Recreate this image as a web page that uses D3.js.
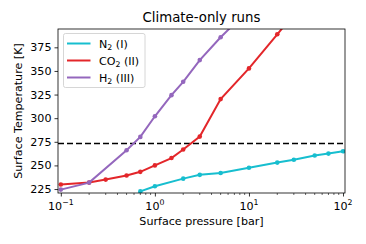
<!DOCTYPE html>
<html>
<head>
<meta charset="utf-8">
<script src="https://d3js.org/d3.v7.min.js"></script>
<style>
  body { margin: 0; background: #fff; }
  text { font-family: "DejaVu Sans", sans-serif; fill: #000; }
</style>
</head>
<body>
<script>

// surface pressure [bar] and surface temperature [K] for each run
var n2P  = [0.7, 1, 2, 3, 5, 10, 20, 30, 50, 70, 100];
var n2T  = [222.5, 228, 236, 240, 242, 247.5, 253, 256, 260.5, 262.5, 265];
var co2P = [0.1, 0.2, 0.3, 0.5, 0.7, 1, 1.5, 2, 3, 5, 10, 20, 30];
var co2T = [229.8, 231.8, 235, 239.3, 243.2, 250, 257.8, 266.8, 280.5, 320.2, 352.7, 388.8, 410];
var h2P  = [0.1, 0.2, 0.5, 0.7, 1, 1.5, 2, 3, 5, 7];
var h2T  = [224.4, 231.8, 266, 280.2, 302, 324.4, 338.5, 361.5, 385.6, 400];

var freezing = 273.15;
var yTicks = [225, 250, 275, 300, 325, 350, 375];
var xTicks = [0.1, 1, 10, 100];
var xTickExp = ["\u22121", "0", "1", "2"];

var series = [
  { name: "N", sub: "2", tag: " (I)",   color: "#17becf", P: n2P,  T: n2T },
  { name: "CO", sub: "2", tag: " (II)", color: "#e3262a", P: co2P, T: co2T },
  { name: "H", sub: "2", tag: " (III)", color: "#9467bd", P: h2P,  T: h2T }
];

var w = 366, h = 244;
var m = { left: 58, right: 21, top: 29, bottom: 51 };
var fs = 11.1;

var svg = d3.select("body").append("svg")
    .attr("width", w)
    .attr("height", h);

var x = d3.scaleLog()
    .domain([Math.pow(10, -1.03), Math.pow(10, 2.021)])
    .range([m.left, w - m.right]);

var y = d3.scaleLinear()
    .domain([220.8, 394.4])
    .range([h - m.bottom, m.top]);

svg.append("clipPath").attr("id", "clip")
  .append("rect")
    .attr("x", m.left).attr("y", m.top)
    .attr("width", w - m.left - m.right)
    .attr("height", h - m.top - m.bottom);

var plot = svg.append("g").attr("clip-path", "url(#clip)");

// freezing point
plot.append("line")
    .attr("x1", m.left).attr("x2", w - m.right)
    .attr("y1", y(freezing)).attr("y2", y(freezing))
    .style("stroke", "#000")
    .style("stroke-width", 1.6)
    .style("stroke-dasharray", "6,3");

var line = d3.line()
    .x(function(d) { return x(d[0]); })
    .y(function(d) { return y(d[1]); });

series.forEach(function(s) {
  var pts = s.P.map(function(p, i) { return [p, s.T[i]]; });
  plot.append("path")
      .datum(pts)
      .attr("d", line)
      .style("fill", "none")
      .style("stroke", s.color)
      .style("stroke-width", 2);
  plot.selectAll(null)
      .data(pts)
      .enter()
      .append("circle")
      .attr("cx", function(d) { return x(d[0]); })
      .attr("cy", function(d) { return y(d[1]); })
      .attr("r", 2.3)
      .style("fill", s.color);
});

// axes
var xAxis = d3.axisBottom(x)
    .tickValues(xTicks)
    .tickSize(3.5)
    .tickFormat("");
var gx = svg.append("g")
    .attr("transform", "translate(0," + (h - m.bottom) + ")")
    .call(xAxis);
gx.select(".domain").remove();

var minor = [];
[0.1, 1, 10].forEach(function(b) {
  for (var k = 2; k <= 9; k++) minor.push(b * k);
});
minor.push(0.09);
gx.selectAll(".minor")
    .data(minor.filter(function(v) { return x(v) >= m.left; }))
    .enter()
    .append("line")
    .attr("x1", function(d) { return x(d); })
    .attr("x2", function(d) { return x(d); })
    .attr("y1", 0).attr("y2", 2)
    .style("stroke", "#000")
    .style("stroke-width", 0.6);

gx.selectAll(".tick line").style("stroke-width", 0.8);

var xl = gx.selectAll(".xlab")
    .data(xTicks)
    .enter()
    .append("text")
    .attr("x", function(d) { return x(d); })
    .attr("y", 17)
    .attr("text-anchor", "middle")
    .style("font-size", fs + "px");
xl.append("tspan").text("10");
xl.append("tspan")
    .attr("dy", -5)
    .style("font-size", "7.8px")
    .text(function(d, i) { return xTickExp[i]; });

var gy = svg.append("g")
    .attr("transform", "translate(" + m.left + ",0)")
    .call(d3.axisLeft(y).tickValues(yTicks).tickSize(3.5));
gy.select(".domain").remove();
gy.selectAll(".tick line").style("stroke-width", 0.8);
gy.selectAll(".tick text")
    .attr("x", -6.5)
    .style("font-family", "DejaVu Sans, sans-serif")
    .style("font-size", fs + "px")
    .style("fill", "#000");

// frame
svg.append("rect")
    .attr("x", m.left).attr("y", m.top)
    .attr("width", w - m.left - m.right)
    .attr("height", h - m.top - m.bottom)
    .style("fill", "none")
    .style("stroke", "#000")
    .style("stroke-width", 0.8);

// labels
svg.append("text")
    .attr("x", (m.left + w - m.right) / 2)
    .attr("y", 21.7)
    .attr("text-anchor", "middle")
    .style("font-size", "13.3px")
    .text("Climate-only runs");

svg.append("text")
    .attr("x", (m.left + w - m.right) / 2)
    .attr("y", 224.5)
    .attr("text-anchor", "middle")
    .style("font-size", fs + "px")
    .text("Surface pressure [bar]");

svg.append("text")
    .attr("transform", "translate(21.5," + ((m.top + h - m.bottom) / 2) + ") rotate(-90)")
    .attr("text-anchor", "middle")
    .style("font-size", fs + "px")
    .text("Surface Temperature [K]");

// legend
var lg = svg.append("g");
lg.append("rect")
    .attr("x", 63.5).attr("y", 33.5)
    .attr("width", 81.5).attr("height", 54)
    .attr("rx", 2)
    .style("fill", "#fff")
    .style("fill-opacity", 0.8)
    .style("stroke", "#ccc")
    .style("stroke-width", 0.8);

var items = lg.selectAll(".item")
    .data(series)
    .enter()
    .append("g")
    .attr("transform", function(d, i) { return "translate(0," + (43.5 + i * 17) + ")"; });
items.append("line")
    .attr("x1", 67).attr("x2", 90.5)
    .style("stroke", function(d) { return d.color; })
    .style("stroke-width", 2);
var lt = items.append("text")
    .attr("x", 99)
    .attr("y", 4)
    .style("font-size", fs + "px");
lt.append("tspan").text(function(d) { return d.name; });
lt.append("tspan")
    .attr("dy", 2.8)
    .style("font-size", "7.8px")
    .text(function(d) { return d.sub; });
lt.append("tspan")
    .attr("dy", -2.8)
    .text(function(d) { return d.tag; });

</script>
</body>
</html>
